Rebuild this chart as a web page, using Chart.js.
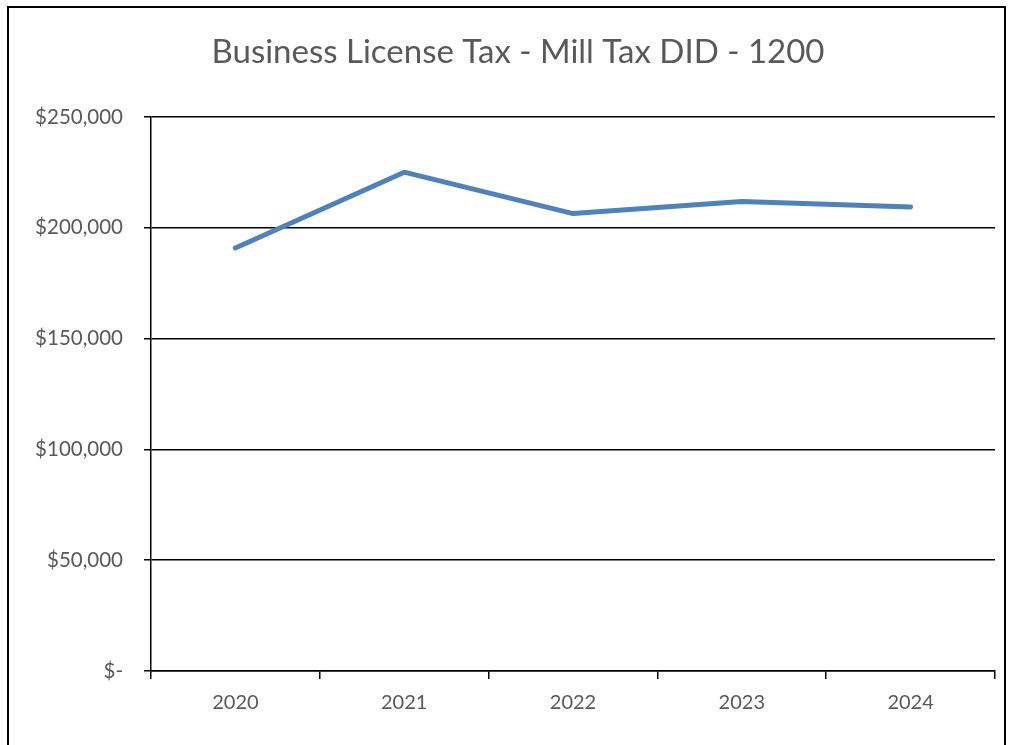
<!DOCTYPE html>
<html>
<head>
<meta charset="utf-8">
<script src="https://cdn.jsdelivr.net/npm/chart.js@4"></script>
<style>
    body { margin: 0; background: #fff; }
    #frame { position: absolute; left: 7px; top: 6px; width: 999px; height: 760px; border: 2px solid #000; box-sizing: border-box; }
    #wrap { position: absolute; left: 0; top: 0; width: 1013px; height: 745px; }
</style>
</head>
<body>
<div id="frame"></div>
<div id="wrap"><canvas id="taxChart" width="1013" height="745"></canvas></div>
<script>
var years = ['2020', '2021', '2022', '2023', '2024'];
var revenue = [190900, 225100, 206400, 211900, 209400];
var chartTitle = 'Business License Tax - Mill Tax DID - 1200';

var textColor = '#595959';
var fontFamily = 'Lato, "Open Sans", sans-serif';

function formatMoney(v) {
    if (v === 0) return '$-';
    return '$' + v.toLocaleString('en-US');
}

// title is centred over the whole frame, not the canvas box minus padding
var frameTitle = {
    id: 'frameTitle',
    afterDraw: function(chart) {
        var c = chart.ctx;
        c.save();
        c.fillStyle = textColor;
        c.font = '33px ' + fontFamily;
        c.textAlign = 'center';
        c.textBaseline = 'middle';
        c.fillText(chartTitle, 518, 52);
        c.restore();
    }
};

var ctx = document.getElementById('taxChart').getContext('2d');
var taxChart = new Chart(ctx, {
    type: 'line',
    data: {
        labels: years,
        datasets: [{
            label: 'Revenue',
            data: revenue,
            borderColor: '#4f81bd',
            borderWidth: 5,
            pointRadius: 0,
            tension: 0,
            borderCapStyle: 'round',
            borderJoinStyle: 'round'
        }]
    },
    plugins: [frameTitle],
    options: {
        responsive: false,
        animation: false,
        layout: { padding: { left: 0, right: 18, top: 117, bottom: 0 } },
        plugins: {
            legend: { display: false },
            tooltip: { enabled: false },
            title: { display: false }
        },
        scales: {
            x: {
                offset: true,
                grid: {
                    offset: true,
                    drawOnChartArea: false,
                    drawTicks: true,
                    tickLength: 8,
                    color: '#000',
                    lineWidth: 1.5
                },
                border: { color: '#000', width: 1.5 },
                ticks: {
                    color: textColor,
                    padding: 12,
                    font: { family: fontFamily, size: 20 }
                },
                afterFit: function(scale) { scale.height = 74; }
            },
            y: {
                min: 0,
                max: 250000,
                grid: {
                    color: '#000',
                    lineWidth: 1.5,
                    drawTicks: true,
                    tickLength: 7
                },
                border: { color: '#000', width: 1.5 },
                ticks: {
                    stepSize: 50000,
                    color: textColor,
                    padding: 21,
                    font: { family: fontFamily, size: 20.5 },
                    callback: function(value) { return formatMoney(value); }
                },
                afterFit: function(scale) { scale.width = 151; }
            }
        }
    }
});
</script>
</body>
</html>
